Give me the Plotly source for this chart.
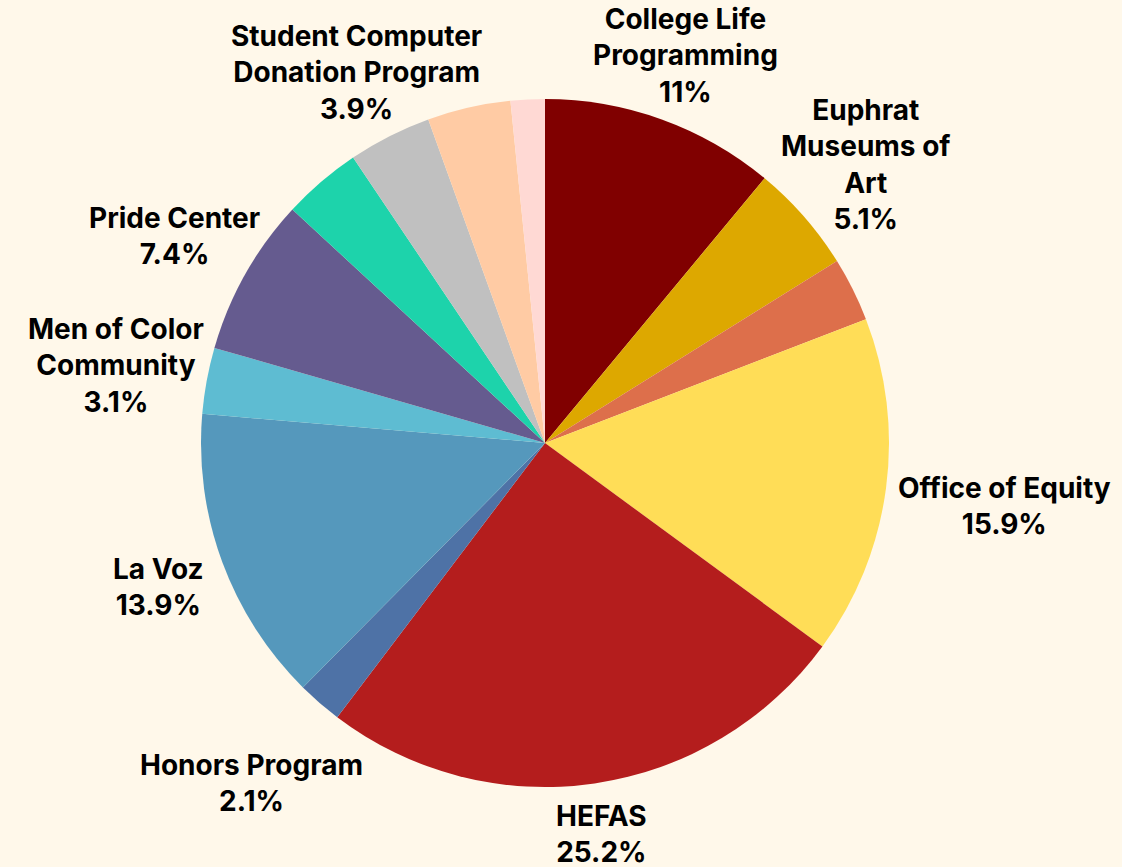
import math
import plotly.graph_objects as go

labels = [
    "College Life Programming", "Euphrat Museums of Art", "Unlabeled A",
    "Office of Equity", "HEFAS", "Honors Program", "La Voz",
    "Men of Color Community", "Pride Center", "Unlabeled B",
    "Student Computer Donation Program", "Unlabeled C", "Unlabeled D",
]
display_names = [
    "College Life<br>Programming", "Euphrat<br>Museums of<br>Art", "",
    "Office of Equity", "HEFAS", "Honors Program", "La Voz",
    "Men of Color<br>Community", "Pride Center", "",
    "Student Computer<br>Donation Program", "", "",
]
values = [11, 5.1, 3.0, 15.9, 25.2, 2.1, 13.9, 3.1, 7.4, 3.7, 3.9, 3.9, 1.6]
colors = [
    "#800000", "#DDA800", "#DD6F4B", "#FFDD57", "#B41D1D", "#4E72A6",
    "#5598BC", "#5EBCD2", "#655B8F", "#1DD3AB", "#C0C0C0", "#FFCBA4", "#FFD9D4",
]

# ---- layout geometry ----
W, H = 1122, 867
ML, MR, MT, MB = 0, 32, 99, 80
pw, ph = W - ML - MR, H - MT - MB
R = min(pw, ph) / 2
Cx, Cy = ML + pw / 2, MT + ph / 2
FONT_SIZE = 28
LINE_H = FONT_SIZE * 1.3
GLYPH_HALF_H = 13
GAP = 14

# approximate Inter Bold advance widths (em)
CW = {
    "A": .72, "C": .72, "D": .72, "E": .60, "F": .58, "H": .74, "L": .56,
    "M": .88, "O": .76, "P": .66, "S": .65, "V": .70,
    "a": .56, "b": .60, "c": .55, "d": .60, "e": .57, "f": .37, "g": .60,
    "h": .60, "i": .27, "l": .27, "m": .88, "n": .60, "o": .59, "p": .60,
    "q": .60, "r": .39, "s": .53, "t": .37, "u": .60, "v": .55, "w": .80,
    "y": .55, " ": .25, ".": .28, "%": .86,
}


def text_width(line):
    return sum(CW.get(ch, .62) for ch in line) * FONT_SIZE


def clearance(px, py, lines):
    """Smallest distance from the pie centre to any text line box."""
    n = len(lines)
    best = 1e9
    for i, line in enumerate(lines):
        hw = text_width(line) / 2
        ly = py + (i - (n - 1) / 2) * LINE_H
        dx = max(0.0, abs(px - Cx) - hw)
        dy = max(0.0, abs(ly - Cy) - GLYPH_HALF_H)
        best = min(best, math.hypot(dx, dy))
    return best


total = sum(values)
annotations = []
cum = 0.0
for name, v in zip(display_names, values):
    start = cum
    cum += v
    if not name:
        continue
    mid = math.radians((start + cum) / 2 / total * 360)
    vx, vy = math.sin(mid), -math.cos(mid)
    txt = f"{name}<br>{v:g}%"
    lines = txt.split("<br>")
    d = R
    while clearance(Cx + d * vx, Cy + d * vy, lines) < R + GAP:
        d += 0.5
    px, py = Cx + d * vx, Cy + d * vy + 2
    annotations.append(dict(
        x=(px - ML) / pw, y=1 - (py - MT) / ph, xref="paper", yref="paper",
        text=txt, showarrow=False, xanchor="center", yanchor="middle",
        align="center", borderpad=0,
        font=dict(family="Inter", size=FONT_SIZE, color="#000000", weight="bold"),
    ))

fig = go.Figure(go.Pie(
    labels=labels,
    values=values,
    textinfo="none",
    sort=False,
    direction="clockwise",
    rotation=0,
    marker=dict(colors=colors, line=dict(width=0)),
    showlegend=False,
    hoverinfo="label+value",
))

fig.update_layout(
    width=W, height=H,
    paper_bgcolor="#FFF8EA",
    plot_bgcolor="#FFF8EA",
    margin=dict(l=ML, r=MR, t=MT, b=MB),
    annotations=annotations,
)

fig.write_html(
    "out.html",
    config={"displayModeBar": False},
    post_script="document.body.style.margin='0';document.body.style.background='#FFF8EA';",
)
